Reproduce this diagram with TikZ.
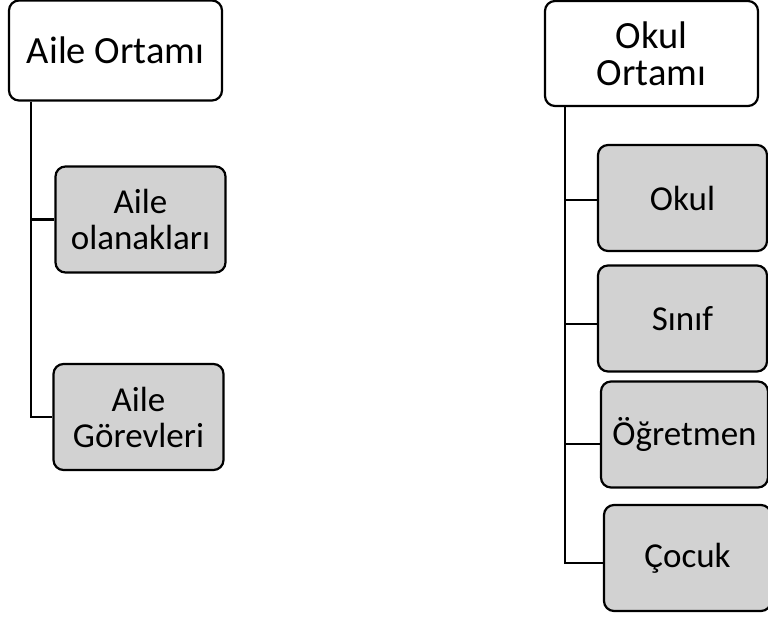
\documentclass[tikz,border=0pt]{standalone}
\usepackage{fontspec}
\setmainfont{Carlito}
\usepackage{tikz}
\definecolor{boxgray}{RGB}{210,210,210}
\tikzset{
TOP/.style ={draw=black,fill=white,line width=2.2pt,rounded corners=10pt,inner sep=0pt,align=center,
  minimum width=213pt,minimum height=100pt,font=\fontsize{38.5}{37}\selectfont},
ITEM/.style={draw=black,fill=boxgray,line width=2.2pt,rounded corners=10pt,inner sep=0pt,align=center,
  minimum width=170pt,minimum height=106pt,font=\fontsize{35}{36}\selectfont},
LINK/.style={draw=black,line width=2.5pt},
}

\begin{document}
\begin{tikzpicture}
[x=1pt,y=-1pt]
	\useasboundingbox (0,0) rectangle (768,618);
	\clip (0,0) rectangle (768,618);
	%Aile
	\node[TOP] (aile) at (115.5,50.5) {Aile Ortamı};
	\node[ITEM] (olanak) at (140.5,219.5) {Aile\\olanakları};
	\node[ITEM] (gorev) at (138.5,417) {Aile\\Görevleri};
	%Okul
	\node[TOP,minimum height=105pt] (okul) at (651.5,53.5) {Okul\\Ortamı};
	\node[ITEM,minimum width=169pt] (okulk) at (682.5,198) {Okul};
	\node[ITEM,minimum width=169pt] (sinif) at (682.5,318.5) {Sınıf};
	\node[ITEM,minimum width=167pt] (ogretmen) at (684.5,434.5) {Öğretmen};
	\node[ITEM,minimum width=167pt] (cocuk) at (687.5,558) {Çocuk};
	%Links
	\path[LINK] ([xshift=23pt]aile.south west) |- (olanak.west);
	\path[LINK] ([xshift=23pt]aile.south west) |- (gorev.west);
	\path[LINK] ([xshift=21pt]okul.south west) |- ([yshift=-2pt]okulk.west);
	\path[LINK] ([xshift=21pt]okul.south west) |- ([yshift=-5.5pt]sinif.west);
	\path[LINK] ([xshift=21pt]okul.south west) |- ([yshift=-9.5pt]ogretmen.west);
	\path[LINK] ([xshift=21pt]okul.south west) |- ([yshift=-5pt]cocuk.west);
\end{tikzpicture}
\end{document}
